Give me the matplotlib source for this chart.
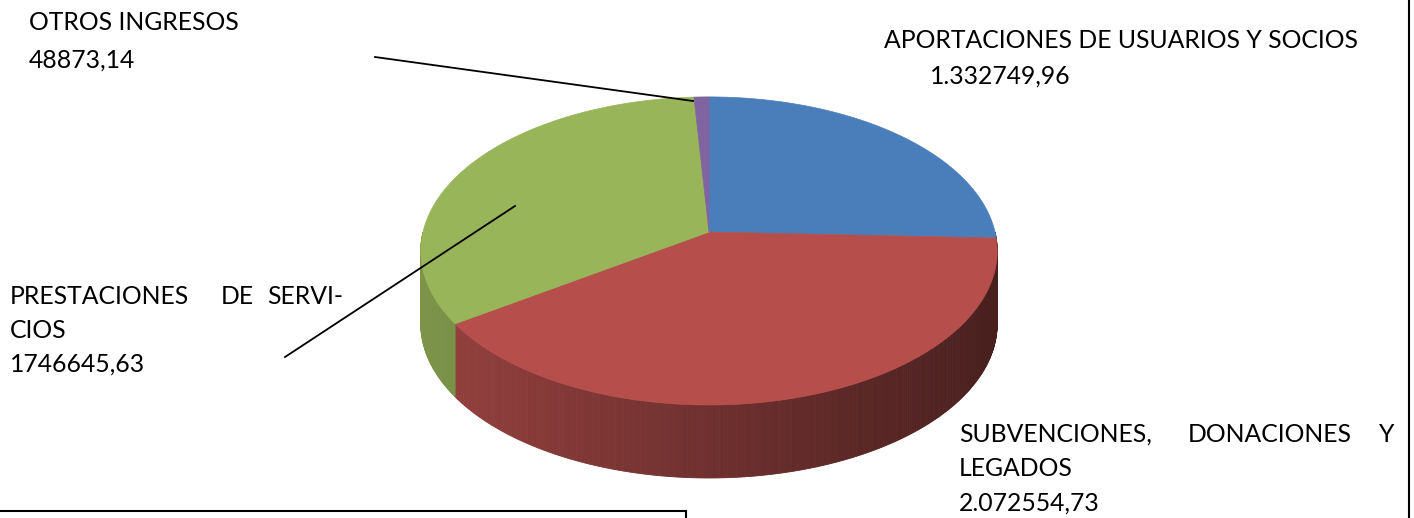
import numpy as np
import matplotlib
matplotlib.use('Agg')
import matplotlib.pyplot as plt
from matplotlib.patches import Polygon

# data (clockwise from 12 o'clock)
categorias = ['APORTACIONES DE USUARIOS Y SOCIOS', 'SUBVENCIONES, DONACIONES Y LEGADOS',
              'PRESTACIONES DE SERVICIOS', 'OTROS INGRESOS']
valores = [1332749.96, 2072554.73, 1746645.63, 48873.14]
etiquetas_valor = ['1.332749,96', '2.072554,73', '1746645,63', '48873,14']
colores = ['#4a7ebb', '#b64f4c', '#98b55a', '#7f64a0']

# geometry of the 3d pie (pixels), simple perspective
cx, cy = 709, 232
rx, ry = 286, 151.7
k = 0.123
depth = 73

fig = plt.figure(figsize=(14.14, 5.18), dpi=100)
ax = fig.add_axes([0, 0, 1, 1])
ax.set_xlim(0, 1414)
ax.set_ylim(518, 0)
ax.axis('off')
plt.rcParams['font.family'] = ['Lato', 'DejaVu Sans']

def pt(theta, dy=0):
    t = np.radians(theta)
    sc = 1/(1 + k*np.sin(t))
    return cx + rx*np.cos(t)*sc, cy - ry*np.sin(t)*sc + dy

def shade(col, x):
    c = np.array(matplotlib.colors.to_rgb(col))
    f = 0.82 - 0.42*(x - (cx - rx))/(2*rx)
    return tuple(np.clip(c*f, 0, 1))

# slice angles
fr = np.array(valores)/sum(valores)
starts = 90 - np.concatenate([[0], np.cumsum(fr)[:-1]])*360
ends = starts - fr*360

# side walls (front half: 180..360)
for s, e, col in zip(starts, ends, colores):
    for off in (0, 360, -360):
        lo = max(e + off, 180)
        hi = min(s + off, 360)
        if hi <= lo:
            continue
        ts = np.append(np.arange(lo, hi, 0.5), hi)
        for t0, t1 in zip(ts[:-1], ts[1:]):
            p0 = pt(t0); p1 = pt(t1)
            quad = [p0, p1, (p1[0], p1[1]+depth), (p0[0], p0[1]+depth)]
            c = shade(col, (p0[0]+p1[0])/2)
            ax.add_patch(Polygon(quad, closed=True, facecolor=c, edgecolor=c, lw=0.6))

# top face
for s, e, col in zip(starts, ends, colores):
    ts = np.linspace(s, e, 200)
    xs, ys = pt(ts)
    verts = [(cx, cy)] + list(zip(xs, ys))
    ax.add_patch(Polygon(verts, closed=True, facecolor=col, edgecolor=col, lw=0.5))

fs = 17.8
# OTROS INGRESOS
ax.text(29, 23, 'OTROS INGRESOS', fontsize=fs, va='center', ha='left')
ax.text(29, 60, etiquetas_valor[3], fontsize=fs, va='center', ha='left')
ax.plot([375, 693], [57, 101], color='black', lw=1.3)

# APORTACIONES
ax.text(884, 40, categorias[0], fontsize=fs, va='center', ha='left')
ax.text(930, 76, etiquetas_valor[0], fontsize=fs, va='center', ha='left')

# PRESTACIONES (justified)
ax.text(10, 296, 'PRESTACIONES', fontsize=fs, va='center', ha='left')
ax.text(221, 296, 'DE', fontsize=fs, va='center', ha='left')
ax.text(343, 296, 'SERVI-', fontsize=fs, va='center', ha='right')
ax.text(10, 330, 'CIOS', fontsize=fs, va='center', ha='left')
ax.text(10, 364, etiquetas_valor[2], fontsize=fs, va='center', ha='left')
ax.plot([285, 515], [357, 206], color='black', lw=1.3)

# SUBVENCIONES (justified)
ax.text(959, 434, 'SUBVENCIONES,', fontsize=fs, va='center', ha='left')
ax.text(1188, 434, 'DONACIONES', fontsize=fs, va='center', ha='left')
ax.text(1394, 434, 'Y', fontsize=fs, va='center', ha='right')
ax.text(959, 468, 'LEGADOS', fontsize=fs, va='center', ha='left')
ax.text(959, 503, etiquetas_valor[1], fontsize=fs, va='center', ha='left')

# frame lines
ax.plot([1409, 1409], [0, 518], color='black', lw=1.5)
ax.plot([0, 686], [511, 511], color='black', lw=1.5)
ax.plot([686, 686], [511, 518], color='black', lw=1.5)

fig.savefig('out.png', dpi=100)
